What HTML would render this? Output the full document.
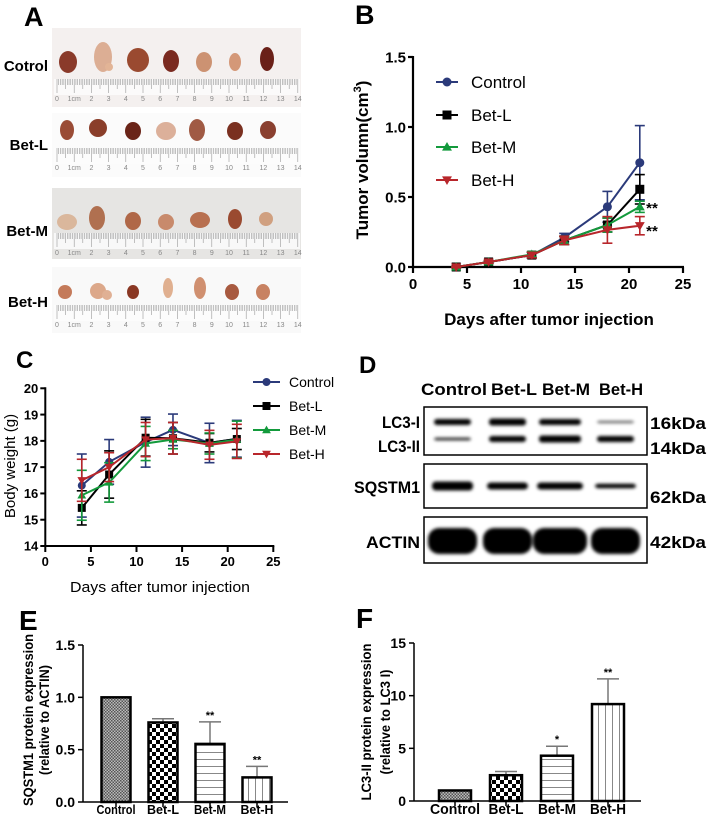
<!DOCTYPE html>
<html><head><meta charset="utf-8"><style>
html,body{margin:0;padding:0;background:#fff}
svg{display:block}
text{font-family:"Liberation Sans",Arial,sans-serif}
.b{font-weight:bold}
</style></head><body>
<svg id="fig" width="708" height="822" viewBox="0 0 708 822" xmlns="http://www.w3.org/2000/svg">
<defs>
<pattern id="pCtrl" width="3" height="3" patternUnits="userSpaceOnUse"><rect width="3" height="3" fill="#bbb"/><rect width="1.5" height="1.5" fill="#555"/><rect x="1.5" y="1.5" width="1.5" height="1.5" fill="#555"/></pattern>
<pattern id="pL" width="8" height="8" patternUnits="userSpaceOnUse"><rect width="8" height="8" fill="#fff"/><rect width="4" height="4" fill="#000"/><rect x="4" y="4" width="4" height="4" fill="#000"/></pattern>
<pattern id="pM" width="6" height="7" patternUnits="userSpaceOnUse"><rect width="6" height="7" fill="#fff"/><rect y="3" width="6" height="1" fill="#888"/></pattern>
<pattern id="pH" width="7" height="6" patternUnits="userSpaceOnUse"><rect width="7" height="6" fill="#fff"/><rect x="3" width="1" height="6" fill="#888"/></pattern>
<filter id="blur"><feGaussianBlur stdDeviation="1.6"/></filter>
</defs>
<g id="gA"></g>
<g id="gB"></g>
<g id="gC"></g>
<g id="gD"></g>
<g id="gE"></g>
<g id="gF"></g>
</svg>
<script>
// ---- Panel B data ----
const bDays = [4, 7, 11, 14, 18, 21];
const bControl = [0, 0.036, 0.085, 0.21, 0.43, 0.745];
const bControlErr = [0.005, 0.01, 0.02, 0.03, 0.11, 0.265];
const bBetL = [0, 0.036, 0.085, 0.19, 0.30, 0.555];
const bBetLErr = [0.005, 0.01, 0.02, 0.03, 0.05, 0.105];
const bBetM = [0, 0.036, 0.09, 0.19, 0.30, 0.43];
const bBetMErr = [0.005, 0.01, 0.02, 0.03, 0.05, 0.04];
const bBetH = [0, 0.036, 0.085, 0.19, 0.265, 0.295];
const bBetHErr = [0.005, 0.01, 0.02, 0.03, 0.095, 0.065];
const bYTicks = ["0.0", "0.5", "1.0", "1.5"];
const bXTicks = [0, 5, 10, 15, 20, 25];
// ---- Panel C data ----
const cDays = [4, 7, 11, 14, 18, 21];
const cControl = [16.3, 17.2, 17.95, 18.42, 17.92, 18.08];
const cControlErr = [1.2, 0.85, 0.95, 0.6, 0.75, 0.7];
const cBetL = [15.45, 16.72, 18.12, 18.1, 17.93, 18.07];
const cBetLErr = [0.65, 0.9, 0.7, 0.6, 0.35, 0.4];
const cBetM = [15.93, 16.42, 17.9, 18.05, 17.9, 18.05];
const cBetMErr = [0.95, 0.75, 0.65, 0.35, 0.4, 0.7];
const cBetH = [16.5, 17.0, 18.05, 18.1, 17.85, 17.98];
const cBetHErr = [0.8, 0.55, 0.65, 0.6, 0.55, 0.65];
const cYTicks = [14, 15, 16, 17, 18, 19, 20];
const cXTicks = [0, 5, 10, 15, 20, 25];
// ---- Panel E data ----
const eGroups = ["Control", "Bet-L", "Bet-M", "Bet-H"];
const eValues = [1.0, 0.76, 0.555, 0.235];
const eErr = [0, 0.035, 0.21, 0.105];
const eStars = ["", "", "**", "**"];
const eYTicks = ["0.0", "0.5", "1.0", "1.5"];
// ---- Panel F data ----
const fGroups = ["Control", "Bet-L", "Bet-M", "Bet-H"];
const fValues = [1.0, 2.45, 4.3, 9.2];
const fErr = [0, 0.35, 0.9, 2.4];
const fStars = ["", "", "*", "**"];
const fYTicks = [0, 5, 10, 15];

const NS = "http://www.w3.org/2000/svg";
function mk(parent, tag, attrs, txt) {
  const e = document.createElementNS(NS, tag);
  for (const k in attrs) e.setAttribute(k, attrs[k]);
  if (txt !== undefined) e.textContent = txt;
  parent.appendChild(e);
  return e;
}
const colors = { Control: "#2b3a7a", "Bet-L": "#000", "Bet-M": "#139a3c", "Bet-H": "#b8262b" };

function marker(g, shape, x, y, s, col) {
  let el;
  if (shape === "circle") el = mk(g, "circle", { cx: x, cy: y, r: s, fill: col });
  else if (shape === "square") el = mk(g, "rect", { x: x - s, y: y - s, width: 2 * s, height: 2 * s, fill: col });
  else if (shape === "up") el = mk(g, "polygon", { points: `${x},${y - s * 1.1} ${x - s * 1.1},${y + s * 0.8} ${x + s * 1.1},${y + s * 0.8}`, fill: col });
  else el = mk(g, "polygon", { points: `${x},${y + s * 1.1} ${x - s * 1.1},${y - s * 0.8} ${x + s * 1.1},${y - s * 0.8}`, fill: col });
  
  
  return el;
}

// ---------- Panel A ----------
(function () {
  const g = document.getElementById("gA");
  const lab = mk(g, "text", { x: 24, y: 26, "font-size": 27, class: "b" }, "A");
   
  const rows = [
    { name: "Cotrol", y0: 28, y1: 107, ry: 79, ty: 66, bg: "#f4f0ef", tum: [[68,62,9,11,"#8a3a2a"],[103,57,9,15,"#dcae94"],[109,67,4,4,"#e2b496"],[138,60,11,12,"#9a4a30"],[171,61,8,11,"#7a2a20"],[204,62,8,10,"#cc9272"],[235,62,6,9,"#d49878"],[267,59,7,12,"#6a2018"]] },
    { name: "Bet-L", y0: 113, y1: 177, ry: 148, ty: 145, bg: "#fbfbfb", tum: [[67,130,7,10,"#9a4c36"],[98,128,9,9,"#8a3e2a"],[133,131,8,9,"#6a2418"],[166,131,10,9,"#dcb09a"],[197,130,8,11,"#a05a44"],[235,131,8,9,"#7a3020"],[268,130,8,9,"#8a4030"]] },
    { name: "Bet-M", y0: 188, y1: 259, ry: 233, ty: 231, bg: "#e6e5e3", tum: [[67,222,10,8,"#dab79c"],[97,218,8,12,"#b07050"],[133,221,8,9,"#b06848"],[166,222,8,8,"#c88a6c"],[200,220,10,8,"#b87050"],[235,219,7,10,"#9a4a30"],[266,219,7,7,"#d0a080"]] },
    { name: "Bet-H", y0: 267, y1: 333, ry: 305, ty: 302, bg: "#f9f9f9", tum: [[65,292,7,7,"#c47a5a"],[98,291,8,8,"#dca88a"],[107,295,5,5,"#e0b094"],[133,292,6,7,"#8a3824"],[168,288,5,10,"#e0b090"],[200,288,6,11,"#d09070"],[232,292,7,8,"#a85a40"],[263,292,7,8,"#c88262"]] }
  ];
  rows.forEach(r => {
    const rg = mk(g, "g", {});
    
    
    mk(rg, "rect", { x: 52, y: r.y0, width: 249, height: r.y1 - r.y0, fill: r.bg });
    mk(rg, "rect", { x: 54, y: r.ry, width: 246, height: 16, fill: "#fdfdfd", opacity: 0.8 });
    for (let mm = 0; mm <= 140; mm++) {
      const x = 57 + mm * 1.72;
      const len = mm % 10 === 0 ? 14 : (mm % 5 === 0 ? 10 : 6);
      mk(rg, "line", { x1: x, x2: x, y1: r.ry, y2: r.ry + len, stroke: "#999", "stroke-width": 0.6 });
    }
    for (let cm = 0; cm <= 14; cm++) {
      mk(rg, "text", { x: 57 + cm * 17.2, y: r.ry + 22, "font-size": 7, fill: "#888", "text-anchor": "middle" }, cm === 1 ? "1cm" : String(cm));
    }
    r.tum.forEach(t => {
      const e = mk(rg, "ellipse", { cx: t[0], cy: t[1], rx: t[2], ry: t[3], fill: t[4] });
      
      
    });
    const l = mk(g, "text", { x: 48, y: r.ty + 5, "font-size": 15, class: "b", "text-anchor": "end" }, r.name);
    
    
  });
})();

// ---------- Line chart helper ----------
function lineChart(g, cfg) {
  const X = d => cfg.x0 + (d - cfg.xmin) / (cfg.xmax - cfg.xmin) * (cfg.x1 - cfg.x0);
  const Y = v => cfg.y0 - (v - cfg.ymin) / (cfg.ymax - cfg.ymin) * (cfg.y0 - cfg.y1);
  const ax = mk(g, "g", {});
   
  mk(ax, "line", { x1: cfg.x0, x2: cfg.x0, y1: cfg.y1 - 1, y2: cfg.y0 + 1, stroke: "#000", "stroke-width": cfg.aw });
  mk(ax, "line", { x1: cfg.x0 - 1, x2: cfg.x1 + 1, y1: cfg.y0, y2: cfg.y0, stroke: "#000", "stroke-width": cfg.aw });
  cfg.yTicks.forEach(t => {
    const y = Y(parseFloat(t));
    mk(ax, "line", { x1: cfg.x0 - 5, x2: cfg.x0, y1: y, y2: y, stroke: "#000", "stroke-width": cfg.aw });
    const tx = mk(ax, "text", { x: cfg.x0 - 7, y: y + cfg.fs * 0.36, "font-size": cfg.fs, class: "b", "text-anchor": "end" }, String(t));
     
  });
  cfg.xTicks.forEach(t => {
    const x = X(t);
    mk(ax, "line", { x1: x, x2: x, y1: cfg.y0, y2: cfg.y0 + 6, stroke: "#000", "stroke-width": cfg.aw });
    const tx = mk(ax, "text", { x: x, y: cfg.y0 + 7 + cfg.fs, "font-size": cfg.fs, class: "b", "text-anchor": "middle" }, String(t));
     
  });
  cfg.series.forEach(s => {
    const sg = mk(g, "g", {});
    
    
    const col = colors[s.name];
    s.vals.forEach((v, i) => {
      const x = X(cfg.days[i]);
      mk(sg, "line", { x1: x, x2: x, y1: Y(v - s.err[i]), y2: Y(v + s.err[i]), stroke: col, "stroke-width": 1.6 });
      [v - s.err[i], v + s.err[i]].forEach(e => mk(sg, "line", { x1: x - 5, x2: x + 5, y1: Y(e), y2: Y(e), stroke: col, "stroke-width": 1.6 }));
    });
    const pts = s.vals.map((v, i) => X(cfg.days[i]) + "," + Y(v)).join(" ");
    const pl = mk(sg, "polyline", { points: pts, fill: "none", stroke: col, "stroke-width": 2 });
     
    s.vals.forEach((v, i) => marker(sg, s.shape, X(cfg.days[i]), Y(v), cfg.ms, col));
  });
  const lg = mk(g, "g", {});
   
  cfg.series.forEach((s, i) => {
    const y = cfg.lgY[i];
    const eg = mk(lg, "g", {});
     
    mk(eg, "line", { x1: cfg.lgX, x2: cfg.lgX + cfg.lgW, y1: y, y2: y, stroke: colors[s.name], "stroke-width": 2 });
    marker(eg, s.shape, cfg.lgX + cfg.lgW / 2, y, cfg.ms, colors[s.name]);
    mk(eg, "text", { x: cfg.lgX + cfg.lgW + cfg.lgGap, y: y + cfg.lfs * 0.36, "font-size": cfg.lfs }, s.name);
  });
}

// ---------- Panel B ----------
(function () {
  const g = document.getElementById("gB");
  const l = mk(g, "text", { x: 355, y: 24, "font-size": 27, class: "b" }, "B");
   
  lineChart(g, {
    x0: 413, x1: 683, y0: 267, y1: 57, xmin: 0, xmax: 25, ymin: 0, ymax: 1.5, aw: 2.2, fs: 15, ms: 4.5,
    yTicks: bYTicks, xTicks: bXTicks, days: bDays,
    series: [
      { name: "Control", vals: bControl, err: bControlErr, shape: "circle" },
      { name: "Bet-L", vals: bBetL, err: bBetLErr, shape: "square" },
      { name: "Bet-M", vals: bBetM, err: bBetMErr, shape: "up" },
      { name: "Bet-H", vals: bBetH, err: bBetHErr, shape: "down" }
    ],
    lgX: 436, lgW: 22, lgGap: 13, lgY: [82, 115, 147, 180], lfs: 17
  });
  const s1 = mk(g, "text", { x: 652, y: 213, "font-size": 15, class: "b", "text-anchor": "middle" }, "**");
   
  const s2 = mk(g, "text", { x: 652, y: 236, "font-size": 15, class: "b", "text-anchor": "middle" }, "**");
   
  const xt = mk(g, "text", { x: 549, y: 325, "font-size": 17, class: "b", "text-anchor": "middle" }, "Days after tumor injection");
   
  const yt = mk(g, "text", { x: 0, y: 0, "font-size": 17, class: "b", "text-anchor": "middle", transform: "translate(368,160) rotate(-90)" });
   
  yt.textContent = "Tumor volumn(cm";
  mk(yt, "tspan", { "font-size": 11, dy: -7 }, "3");
  mk(yt, "tspan", { dy: 7 }, ")");
})();

// ---------- Panel C ----------
(function () {
  const g = document.getElementById("gC");
  const l = mk(g, "text", { x: 16, y: 368, "font-size": 24, class: "b" }, "C");
   
  lineChart(g, {
    x0: 45.3, x1: 273.3, y0: 546, y1: 388.3, xmin: 0, xmax: 25, ymin: 14, ymax: 20, aw: 2, fs: 13, ms: 4,
    yTicks: cYTicks, xTicks: cXTicks, days: cDays,
    series: [
      { name: "Control", vals: cControl, err: cControlErr, shape: "circle" },
      { name: "Bet-L", vals: cBetL, err: cBetLErr, shape: "square" },
      { name: "Bet-M", vals: cBetM, err: cBetMErr, shape: "up" },
      { name: "Bet-H", vals: cBetH, err: cBetHErr, shape: "down" }
    ],
    lgX: 253, lgW: 27, lgGap: 9, lgY: [382, 406, 430, 454], lfs: 14
  });
  const xt = mk(g, "text", { x: 160, y: 592, "font-size": 15, "text-anchor": "middle", textLength: 180, lengthAdjust: "spacingAndGlyphs" }, "Days after tumor injection");
   
  const yt = mk(g, "text", { x: 0, y: 0, "font-size": 15, "text-anchor": "middle", transform: "translate(15,466) rotate(-90)" }, "Body weight (g)");
   
})();

// ---------- Panel D ----------
(function () {
  const g = document.getElementById("gD");
  const l = mk(g, "text", { x: 359, y: 373, "font-size": 24, class: "b" }, "D");
   
  const lanes = [["Control", 454, 66], ["Bet-L", 514, 46], ["Bet-M", 566, 48], ["Bet-H", 621, 44]];
  lanes.forEach(ln => {
    const t = mk(g, "text", { x: ln[1], y: 395, "font-size": 17, class: "b", "text-anchor": "middle", textLength: ln[2], lengthAdjust: "spacingAndGlyphs" }, ln[0]);
     
  });
  const boxes = [[407, 455], [464, 508], [517, 563]];
  const names = ["blot-lc3", "blot-sqstm1", "blot-actin"];
  boxes.forEach((b, i) => {
    const r = mk(g, "rect", { x: 424, y: b[0], width: 223, height: b[1] - b[0], fill: "#fff", stroke: "#000", "stroke-width": 1.5 });
     
  });
  const bg = mk(g, "g", { filter: "url(#blur)", fill: "#000" });
   
  const lx = [[434, 471], [489, 526], [539, 581], [597, 634]];
  const lc3i = [6, 7, 6, 2.5], lc3ii = [3, 6, 7, 6];
  const sq = [9, 7, 7, 4.5];
  lx.forEach((x, i) => {
    mk(bg, "rect", { x: x[0], y: 422 - lc3i[i] / 2, width: x[1] - x[0], height: lc3i[i], rx: 3, opacity: i === 3 ? 0.6 : 1 });
    mk(bg, "rect", { x: x[0], y: 439 - lc3ii[i] / 2, width: x[1] - x[0], height: lc3ii[i], rx: 3, opacity: i === 0 ? 0.8 : 1 });
    mk(bg, "rect", { x: x[0] - 2, y: 486 - sq[i] / 2, width: x[1] - x[0] + 4, height: sq[i], rx: 4 });
    mk(bg, "rect", { x: x[0] - 6, y: 528, width: x[1] - x[0] + 12, height: 26, rx: 11 });
  });
  const left = [["LC3-I", 428, 38], ["LC3-II", 452, 42], ["SQSTM1", 493, 66], ["ACTIN", 548, 54]];
  left.forEach(a => {
    const t = mk(g, "text", { x: 420, y: a[1], "font-size": 17, class: "b", "text-anchor": "end", textLength: a[2], lengthAdjust: "spacingAndGlyphs" }, a[0]);
     
  });
  const right = [["16kDa", 429], ["14kDa", 454], ["62kDa", 503], ["42kDa", 548]];
  right.forEach(a => {
    const t = mk(g, "text", { x: 650, y: a[1], "font-size": 17, class: "b", textLength: 56, lengthAdjust: "spacingAndGlyphs" }, a[0]);
     
  });
})();

// ---------- Bar chart helper ----------
function barChart(g, cfg) {
  const Y = v => cfg.y0 - v / cfg.ymax * (cfg.y0 - cfg.y1);
  const ax = mk(g, "g", {});
   
  mk(ax, "line", { x1: cfg.x0, x2: cfg.x0, y1: cfg.y1, y2: cfg.y0, stroke: "#000", "stroke-width": 1.5 });
  mk(ax, "line", { x1: cfg.x0, x2: cfg.x1, y1: cfg.y0, y2: cfg.y0, stroke: "#000", "stroke-width": 1.5 });
  cfg.yTicks.forEach(t => {
    const y = Y(parseFloat(t));
    mk(ax, "line", { x1: cfg.x0 - 5, x2: cfg.x0, y1: y, y2: y, stroke: "#000", "stroke-width": 1.5 });
    const tx = mk(ax, "text", { x: cfg.x0 - 8, y: y + 5, "font-size": 14, class: "b", "text-anchor": "end" }, String(t));
     
  });
  const fills = ["url(#pCtrl)", "url(#pL)", "url(#pM)", "url(#pH)"];
  cfg.groups.forEach((name, i) => {
    const cx = cfg.x0 + cfg.first + i * cfg.step;
    const v = cfg.vals[i];
    const bgp = mk(g, "g", {});
    
    
    if (cfg.err[i] > 0) {
      mk(bgp, "line", { x1: cx, x2: cx, y1: Y(v), y2: Y(v + cfg.err[i]), stroke: "#777", "stroke-width": 1.5 });
      mk(bgp, "line", { x1: cx - 11, x2: cx + 11, y1: Y(v + cfg.err[i]), y2: Y(v + cfg.err[i]), stroke: "#777", "stroke-width": 1.5 });
    }
    mk(bgp, "rect", { x: cx - cfg.bw / 2, y: Y(v), width: cfg.bw, height: cfg.y0 - Y(v), fill: fills[i], stroke: "#000", "stroke-width": 2.5 });
    if (cfg.stars[i]) {
      const s = mk(g, "text", { x: cx, y: Y(v + cfg.err[i]) - 3, "font-size": 11, class: "b", "text-anchor": "middle" }, cfg.stars[i]);
       
    }
    mk(ax, "line", { x1: cx, x2: cx, y1: cfg.y0, y2: cfg.y0 + 5, stroke: "#000", "stroke-width": 1.5 });
    const tx = mk(ax, "text", { x: cx, y: 814, "font-size": cfg.lfs, class: "b", "text-anchor": "middle", textLength: cfg.lw[i], lengthAdjust: "spacingAndGlyphs" }, name);
     
  });
  cfg.title.forEach((line, i) => {
    const t = mk(g, "text", { x: 0, y: 0, "font-size": 14, class: "b", "text-anchor": "middle", transform: `translate(${cfg.tx[i]},${cfg.ty}) rotate(-90)`, textLength: cfg.tl[i], lengthAdjust: "spacingAndGlyphs" }, line);
     
  });
}

(function () {
  const g = document.getElementById("gE");
  const l = mk(g, "text", { x: 19, y: 630, "font-size": 28, class: "b" }, "E");
   
  barChart(g, { x0: 83, x1: 288, y0: 802, y1: 645, ymax: 1.5, yTicks: eYTicks, groups: eGroups, vals: eValues, err: eErr, stars: eStars,
    first: 33, step: 47, bw: 29, lfs: 13, lw: [39, 32, 32, 33],
    title: ["SQSTM1 protein expression", "(relative to ACTIN)"], tx: [33, 49], ty: 720, tl: [172, 110] });
})();
(function () {
  const g = document.getElementById("gF");
  const l = mk(g, "text", { x: 356, y: 628, "font-size": 28, class: "b" }, "F");
   
  barChart(g, { x0: 414, x1: 641, y0: 801, y1: 643, ymax: 15, yTicks: fYTicks, groups: fGroups, vals: fValues, err: fErr, stars: fStars,
    first: 41, step: 51, bw: 32, lfs: 15, lw: [50, 35, 38, 36],
    title: ["LC3-II protein expression", "(relative to LC3 I)"], tx: [371, 390], ty: 722, tl: [157, 105] });
})();
</script>
</body></html>
